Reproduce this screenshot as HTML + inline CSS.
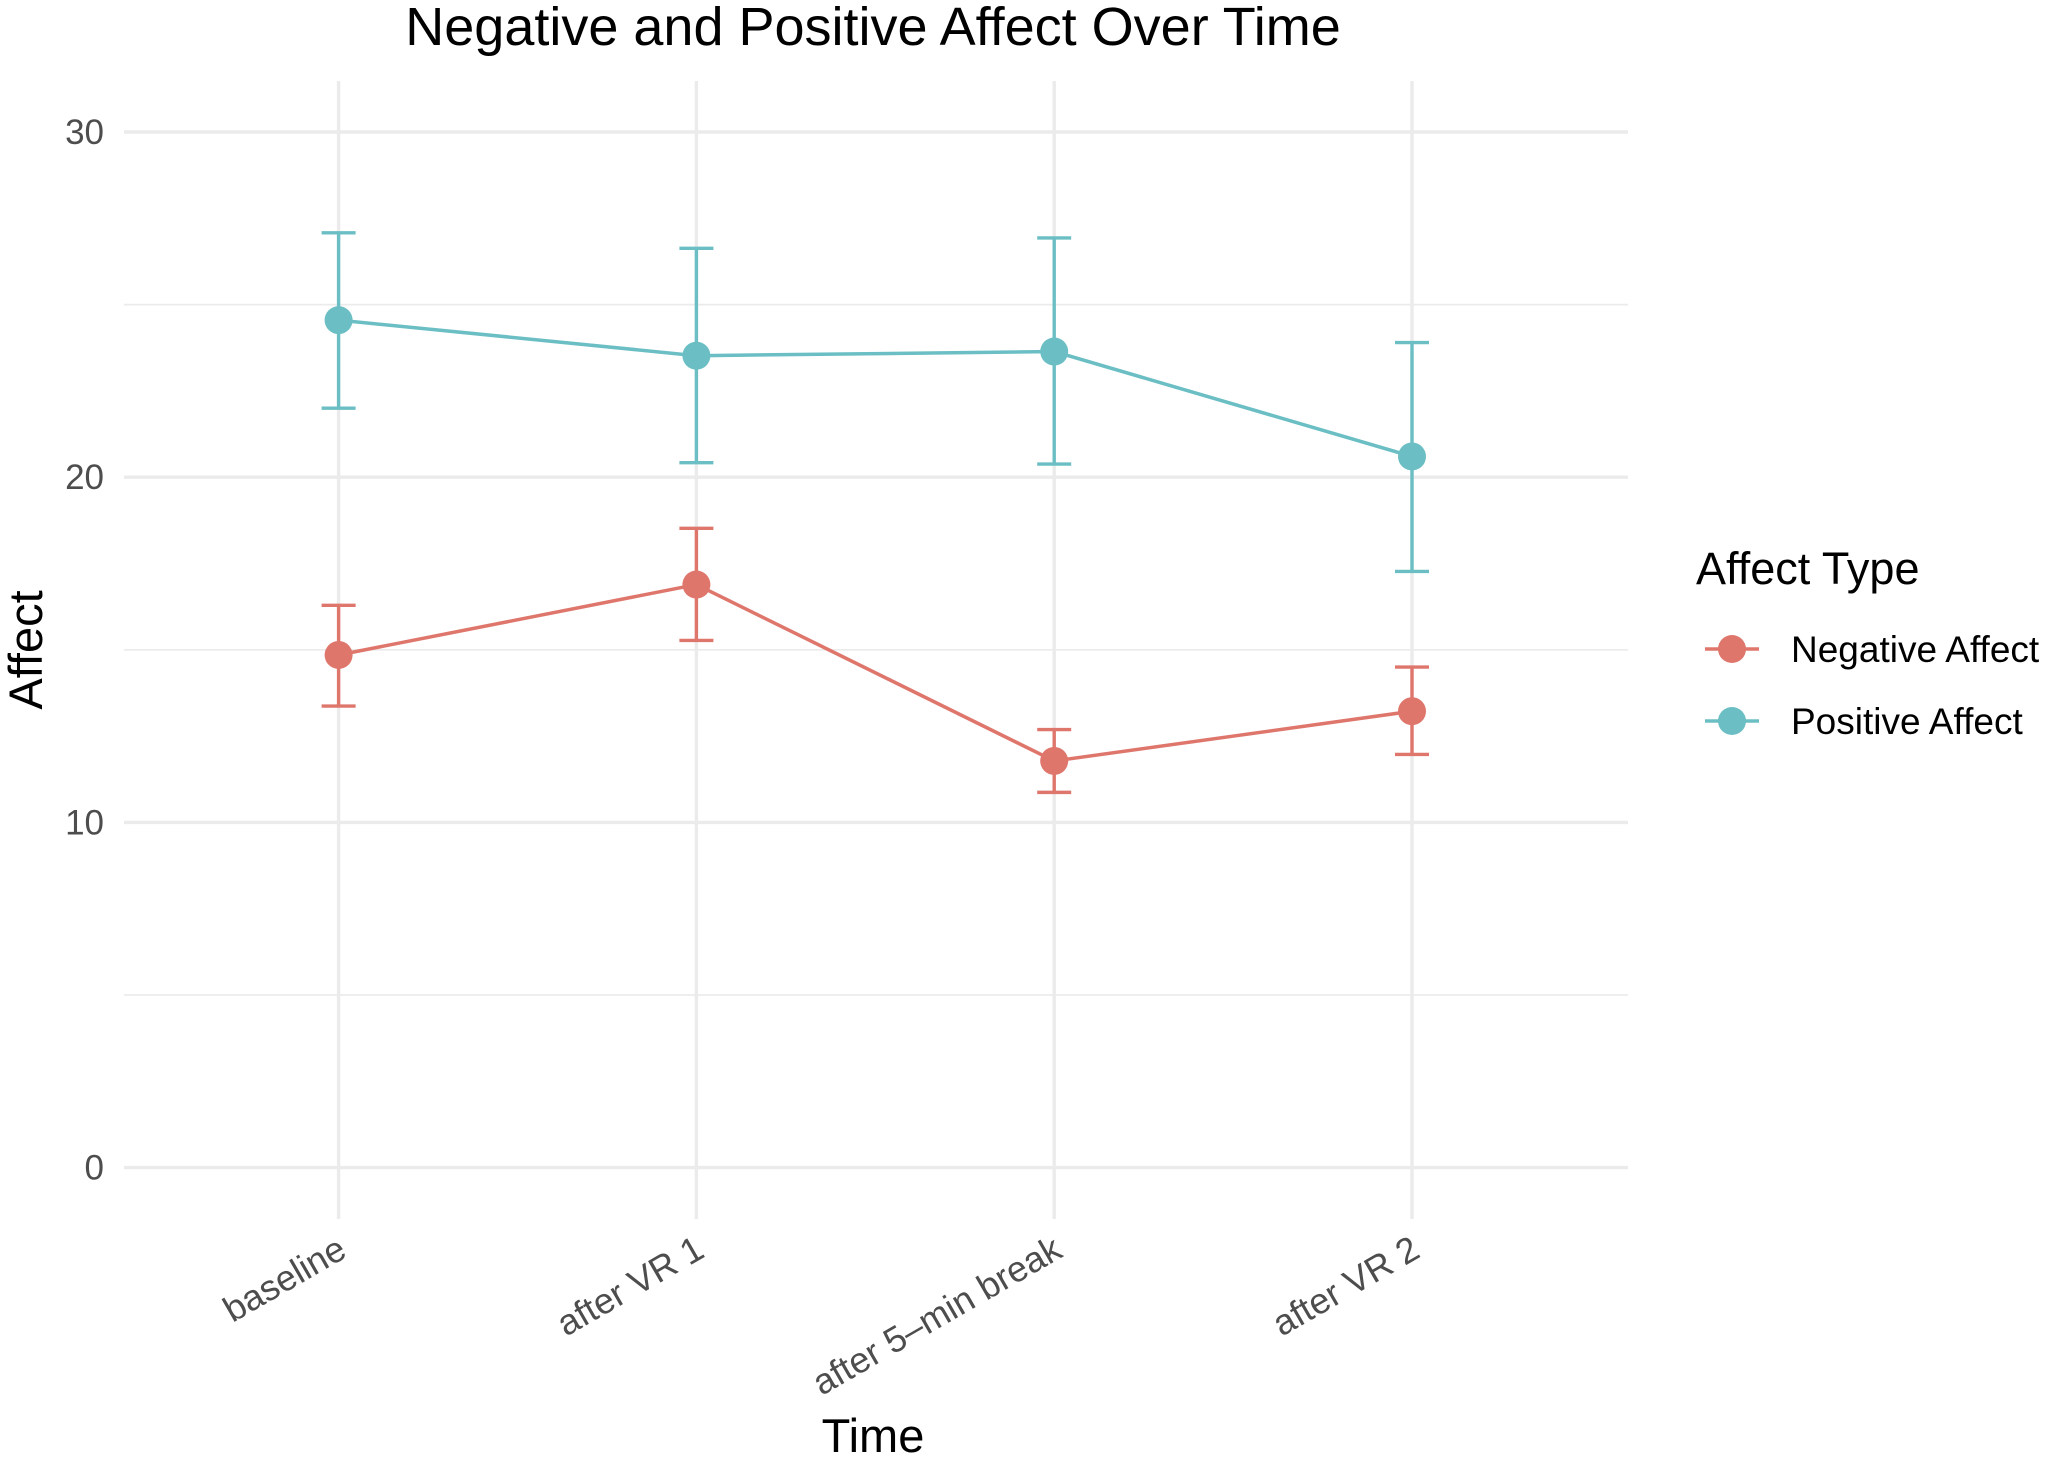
<!DOCTYPE html>
<html><head><meta charset="utf-8"><style>
html,body{margin:0;padding:0;background:#fff}
svg{display:block;font-family:"Liberation Sans",sans-serif}
</style></head><body>
<svg id="chart" width="2050" height="1458" viewBox="0 0 2050 1458">
<text x="873" y="45" font-size="54" text-anchor="middle" fill="#000">Negative and Positive Affect Over Time</text>
<g id="grid"></g>
<g id="marks"></g>
<text x="873" y="1452" font-size="47" text-anchor="middle" fill="#000">Time</text>
<text transform="translate(42,650) rotate(-90)" font-size="47" text-anchor="middle" fill="#000">Affect</text>
<g>
<text x="1696" y="584" font-size="45" fill="#000">Affect Type</text>
<g>
<line x1="1705" y1="649" x2="1759" y2="649" stroke="#df766c" stroke-width="3.5"/>
<circle cx="1732" cy="649" r="14" fill="#df766c"/>
<text x="1791" y="662" font-size="37" fill="#000">Negative Affect</text></g>
<g>
<line x1="1705" y1="721" x2="1759" y2="721" stroke="#6bbfc4" stroke-width="3.5"/>
<circle cx="1732" cy="721" r="14" fill="#6bbfc4"/>
<text x="1791" y="734" font-size="37" fill="#000">Positive Affect</text></g>
</g>
</svg>
<script>
const categories=["baseline","after VR 1","after 5\u2013min break","after VR 2"];
const negMean=[14.85,16.89,11.78,13.22];
const negLow=[13.37,15.27,10.87,11.97];
const negHigh=[16.29,18.52,12.69,14.5];
const posMean=[24.55,23.52,23.64,20.6];
const posLow=[22.0,20.42,20.38,17.27];
const posHigh=[27.08,26.63,26.93,23.9];
const yTicks=[0,10,20,30];
const yMinor=[5,15,25];

const NS="http://www.w3.org/2000/svg";
const X0=338.6,XSTEP=357.8;
function xs(i){return X0+i*XSTEP;}
function ys(v){return 1167.6-v*34.52;}
function mk(tag,attrs,parent){const e=document.createElementNS(NS,tag);for(const k in attrs)e.setAttribute(k,attrs[k]);parent.appendChild(e);return e;}
const grid=document.getElementById('grid'),marks=document.getElementById('marks');
yMinor.forEach(v=>{const l=mk('line',{x1:124,x2:1628,y1:ys(v),y2:ys(v),stroke:'#ebebeb','stroke-width':1.7},grid);

});
yTicks.forEach(v=>{const l=mk('line',{x1:124,x2:1628,y1:ys(v),y2:ys(v),stroke:'#ebebeb','stroke-width':3.4},grid);


const t=mk('text',{x:104,y:ys(v)+12,'font-size':35,'text-anchor':'end',fill:'#4d4d4d'},grid);t.textContent=v;

});
categories.forEach((c,i)=>{const l=mk('line',{x1:xs(i),x2:xs(i),y1:81,y2:1219,stroke:'#ebebeb','stroke-width':3.4},grid);


const t=mk('text',{transform:`translate(${xs(i)+10},${1256}) rotate(-30)`,'font-size':36,'text-anchor':'end',fill:'#4d4d4d'},grid);t.textContent=c;

});
function series(mean,low,high,color,name){
  const g=mk('g',{},marks);
  
  
  mean.forEach((m,i)=>{
    const e=mk('path',{d:`M${xs(i)-17},${ys(high[i])}H${xs(i)+17}M${xs(i)},${ys(high[i])}V${ys(low[i])}M${xs(i)-17},${ys(low[i])}H${xs(i)+17}`,stroke:color,'stroke-width':3.4,fill:'none'},g);
    
    
  });
  const pl=mk('polyline',{points:mean.map((m,i)=>xs(i)+','+ys(m)).join(' '),stroke:color,'stroke-width':3.5,fill:'none'},g);
  
  
  mean.forEach((m,i)=>{const c=mk('circle',{cx:xs(i),cy:ys(m),r:14,fill:color},g);
    
    });
}
series(negMean,negLow,negHigh,'#df766c','negative-affect');
series(posMean,posLow,posHigh,'#6bbfc4','positive-affect');
</script>
</body></html>
